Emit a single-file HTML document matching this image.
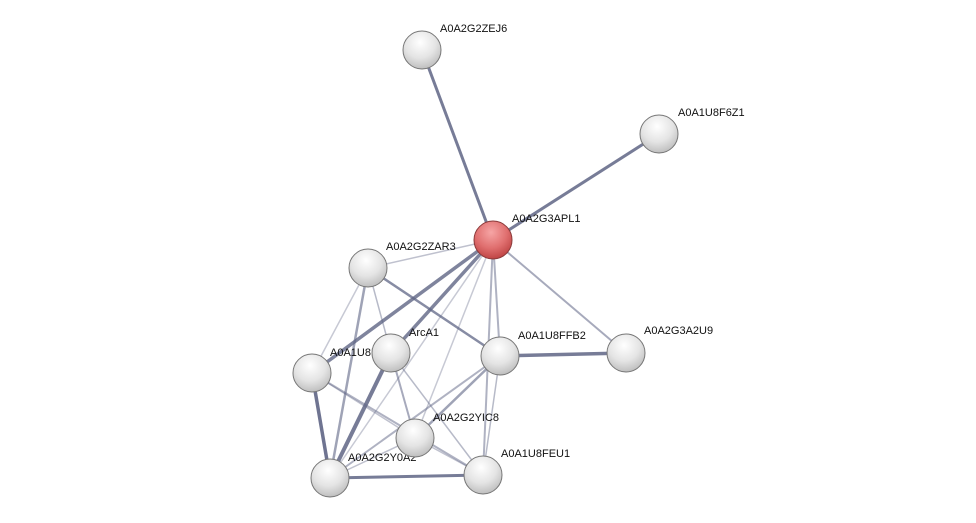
<!DOCTYPE html>
<html><head><meta charset="utf-8"><style>
html,body{margin:0;padding:0;background:#fff;}
svg{display:block;}
text{font-family:"Liberation Sans",sans-serif;font-size:11px;fill:#111;}
</style></head><body>
<svg width="976" height="523" viewBox="0 0 976 523" xmlns="http://www.w3.org/2000/svg">
<defs>
<radialGradient id="g" cx="0.45" cy="0.3" r="0.75">
<stop offset="0" stop-color="#ffffff"/><stop offset="0.55" stop-color="#e4e4e4"/><stop offset="0.9" stop-color="#c2c2c2"/><stop offset="1" stop-color="#9a9a9a"/>
</radialGradient>
<radialGradient id="r" cx="0.45" cy="0.3" r="0.75">
<stop offset="0" stop-color="#f6a5a5"/><stop offset="0.55" stop-color="#e06f6f"/><stop offset="0.9" stop-color="#c24848"/><stop offset="1" stop-color="#8f3030"/>
</radialGradient>
<linearGradient id="hl" x1="0" y1="0" x2="0" y2="1"><stop offset="0" stop-color="#fff" stop-opacity="0.9"/><stop offset="1" stop-color="#fff" stop-opacity="0"/></linearGradient>
</defs>
<g stroke="#5f6585" stroke-linecap="round">
<line x1="493" y1="240" x2="422" y2="50" stroke-width="3" stroke-opacity="0.85"/>
<line x1="493" y1="240" x2="659" y2="134" stroke-width="3" stroke-opacity="0.85"/>
<line x1="493" y1="240" x2="368" y2="268" stroke-width="1.5" stroke-opacity="0.4"/>
<line x1="493" y1="240" x2="312" y2="373" stroke-width="3.5" stroke-opacity="0.8"/>
<line x1="493" y1="240" x2="391" y2="353" stroke-width="3.5" stroke-opacity="0.8"/>
<line x1="493" y1="240" x2="330" y2="478" stroke-width="1.5" stroke-opacity="0.35"/>
<line x1="493" y1="240" x2="415" y2="438" stroke-width="1.5" stroke-opacity="0.35"/>
<line x1="493" y1="240" x2="500" y2="356" stroke-width="2" stroke-opacity="0.5"/>
<line x1="493" y1="240" x2="483" y2="475" stroke-width="2" stroke-opacity="0.5"/>
<line x1="493" y1="240" x2="626" y2="353" stroke-width="2" stroke-opacity="0.55"/>
<line x1="368" y1="268" x2="500" y2="356" stroke-width="2.5" stroke-opacity="0.75"/>
<line x1="368" y1="268" x2="312" y2="373" stroke-width="1.5" stroke-opacity="0.35"/>
<line x1="368" y1="268" x2="330" y2="478" stroke-width="2.5" stroke-opacity="0.6"/>
<line x1="368" y1="268" x2="391" y2="353" stroke-width="1.5" stroke-opacity="0.45"/>
<line x1="312" y1="373" x2="330" y2="478" stroke-width="3.5" stroke-opacity="0.9"/>
<line x1="312" y1="373" x2="483" y2="475" stroke-width="2" stroke-opacity="0.5"/>
<line x1="312" y1="373" x2="415" y2="438" stroke-width="1.5" stroke-opacity="0.4"/>
<line x1="391" y1="353" x2="330" y2="478" stroke-width="4" stroke-opacity="0.85"/>
<line x1="391" y1="353" x2="415" y2="438" stroke-width="2" stroke-opacity="0.55"/>
<line x1="391" y1="353" x2="483" y2="475" stroke-width="1.5" stroke-opacity="0.45"/>
<line x1="500" y1="356" x2="626" y2="353" stroke-width="3.5" stroke-opacity="0.85"/>
<line x1="500" y1="356" x2="330" y2="478" stroke-width="2" stroke-opacity="0.5"/>
<line x1="500" y1="356" x2="415" y2="438" stroke-width="2.5" stroke-opacity="0.6"/>
<line x1="500" y1="356" x2="483" y2="475" stroke-width="1.5" stroke-opacity="0.45"/>
<line x1="330" y1="478" x2="483" y2="475" stroke-width="3" stroke-opacity="0.85"/>
<line x1="330" y1="478" x2="415" y2="438" stroke-width="1.5" stroke-opacity="0.4"/>
<line x1="415" y1="438" x2="483" y2="475" stroke-width="1.5" stroke-opacity="0.4"/>
</g>
<g stroke="#777" stroke-width="1">
<circle cx="422" cy="50" r="19" fill="url(#g)"/>
<circle cx="659" cy="134" r="19" fill="url(#g)"/>
<circle cx="368" cy="268" r="19" fill="url(#g)"/>
<circle cx="312" cy="373" r="19" fill="url(#g)"/>
<circle cx="500" cy="356" r="19" fill="url(#g)"/>
<circle cx="626" cy="353" r="19" fill="url(#g)"/>
<circle cx="483" cy="475" r="19" fill="url(#g)"/>
<circle cx="330" cy="478" r="19" fill="url(#g)"/>
</g>
<text x="440" y="32">A0A2G2ZEJ6</text>
<text x="678" y="116">A0A1U8F6Z1</text>
<text x="386" y="250">A0A2G2ZAR3</text>
<text x="330" y="356">A0A1U8FQ12</text>
<text x="518" y="339">A0A1U8FFB2</text>
<text x="644" y="334">A0A2G3A2U9</text>
<text x="501" y="457">A0A1U8FEU1</text>
<text x="348" y="461">A0A2G2Y0A2</text>
<circle cx="391" cy="353" r="19" fill="url(#g)" stroke="#777"/>
<text x="409" y="336">ArcA1</text>
<circle cx="415" cy="438" r="19" fill="url(#g)" stroke="#777"/>
<text x="433" y="421">A0A2G2YIC8</text>
<circle cx="493" cy="240" r="19" fill="url(#r)" stroke="#8a3a3a"/>
<text x="512" y="222">A0A2G3APL1</text>
</svg>
</body></html>
